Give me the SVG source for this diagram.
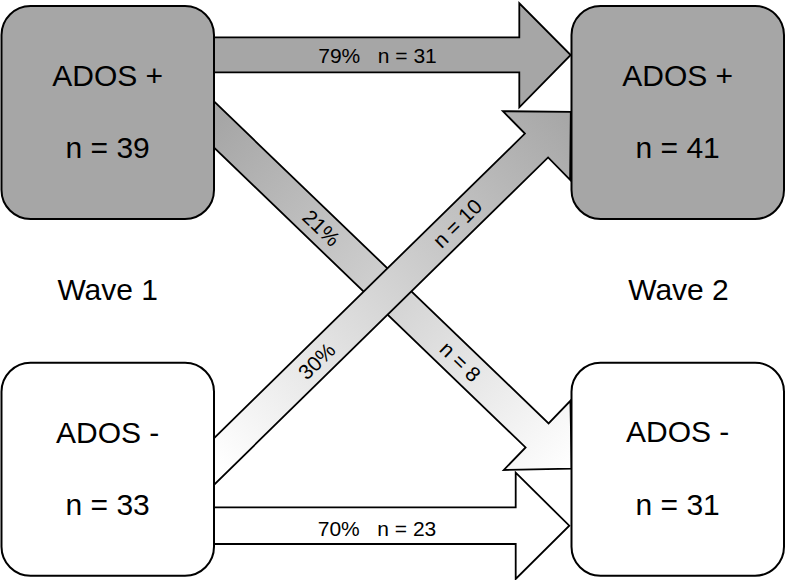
<svg xmlns="http://www.w3.org/2000/svg" width="789" height="580" viewBox="0 0 789 580">
<style>
text{font-family:"Liberation Sans",Arial,sans-serif;fill:#000}
.box{stroke:#000;stroke-width:2}
.pos{fill:#a6a6a6}
.neg{fill:#ffffff}
.arr{stroke:#000;stroke-width:1.8;stroke-linejoin:miter}
.big{font-size:30px;text-anchor:middle}
.lab{font-size:21px;text-anchor:middle;white-space:pre}
</style>
<defs>
<linearGradient id="g1" gradientUnits="userSpaceOnUse" x1="214" y1="124.5" x2="571.7" y2="468.7">
<stop offset="0" stop-color="#a6a6a6"/><stop offset="1" stop-color="#ffffff"/>
</linearGradient>
<linearGradient id="g2" gradientUnits="userSpaceOnUse" x1="214" y1="461.5" x2="570.8" y2="111.9">
<stop offset="0" stop-color="#ffffff"/><stop offset="1" stop-color="#a6a6a6"/>
</linearGradient>
</defs>
<rect width="789" height="580" fill="#ffffff"/>
<g id="connectors">
<g id="arrow-pos-pos">
<polygon class="arr pos" points="200,37.3 519.3,37.3 519.3,3.3 570.7,55 519.3,107.3 519.3,72.3 200,72.3"/>
<text class="lab" x="377.5" y="63.3" xml:space="preserve">79%   n = 31</text>
</g>
<g id="arrow-neg-neg">
<polygon class="arr neg" points="200,507.3 515.7,507.3 515.7,472.7 569.3,525.7 515.7,579 515.7,544 200,544"/>
<text class="lab" x="377" y="536" xml:space="preserve">70%   n = 23</text>
</g>
<g id="arrow-pos-neg">
<polygon class="arr" fill="url(#g1)" points="203.9,91.7 548.6,423.4 570.4,400.8 571.7,468.7 503.8,470 525.6,447.4 180.9,115.7"/>
<text class="lab" transform="translate(321.4,227.8) rotate(43.9)" x="0" y="7.5">21%</text>
<text class="lab" transform="translate(460.4,361.6) rotate(43.9)" x="0" y="7.5">n = 8</text>
</g>
<g id="arrow-neg-pos">
<polygon class="arr" fill="url(#g2)" points="181,470.6 524.9,133.6 502.9,111.2 570.8,111.9 570.1,179.8 548.1,157.4 204.2,494.4"/>
<text class="lab" transform="translate(316.6,361) rotate(-44.4)" x="0" y="7.5">30%</text>
<text class="lab" transform="translate(457.2,223.2) rotate(-44.4)" x="0" y="7.5">n = 10</text>
</g>
</g>
<g id="node-w1-pos">
<rect class="box pos" x="1.5" y="6" width="212.5" height="213" rx="29" ry="29"/>
<text class="big" x="107.7" y="86">ADOS +</text>
<text class="big" x="107.7" y="158.3">n = 39</text>
</g>
<g id="node-w2-pos">
<rect class="box pos" x="571.5" y="6" width="212.5" height="213" rx="29" ry="29"/>
<text class="big" x="677.7" y="86">ADOS +</text>
<text class="big" x="677.7" y="158.3">n = 41</text>
</g>
<g id="node-w1-neg">
<rect class="box neg" x="1.5" y="362.7" width="212.5" height="213" rx="29" ry="29"/>
<text class="big" x="107.7" y="443">ADOS -</text>
<text class="big" x="107.7" y="515">n = 33</text>
</g>
<g id="node-w2-neg">
<rect class="box neg" x="571.5" y="362.7" width="212.5" height="213" rx="29" ry="29"/>
<text class="big" x="677.7" y="442">ADOS -</text>
<text class="big" x="677.7" y="515">n = 31</text>
</g>
<text class="big" x="107.7" y="300">Wave 1</text>
<text class="big" x="678.5" y="300">Wave 2</text>
</svg>
